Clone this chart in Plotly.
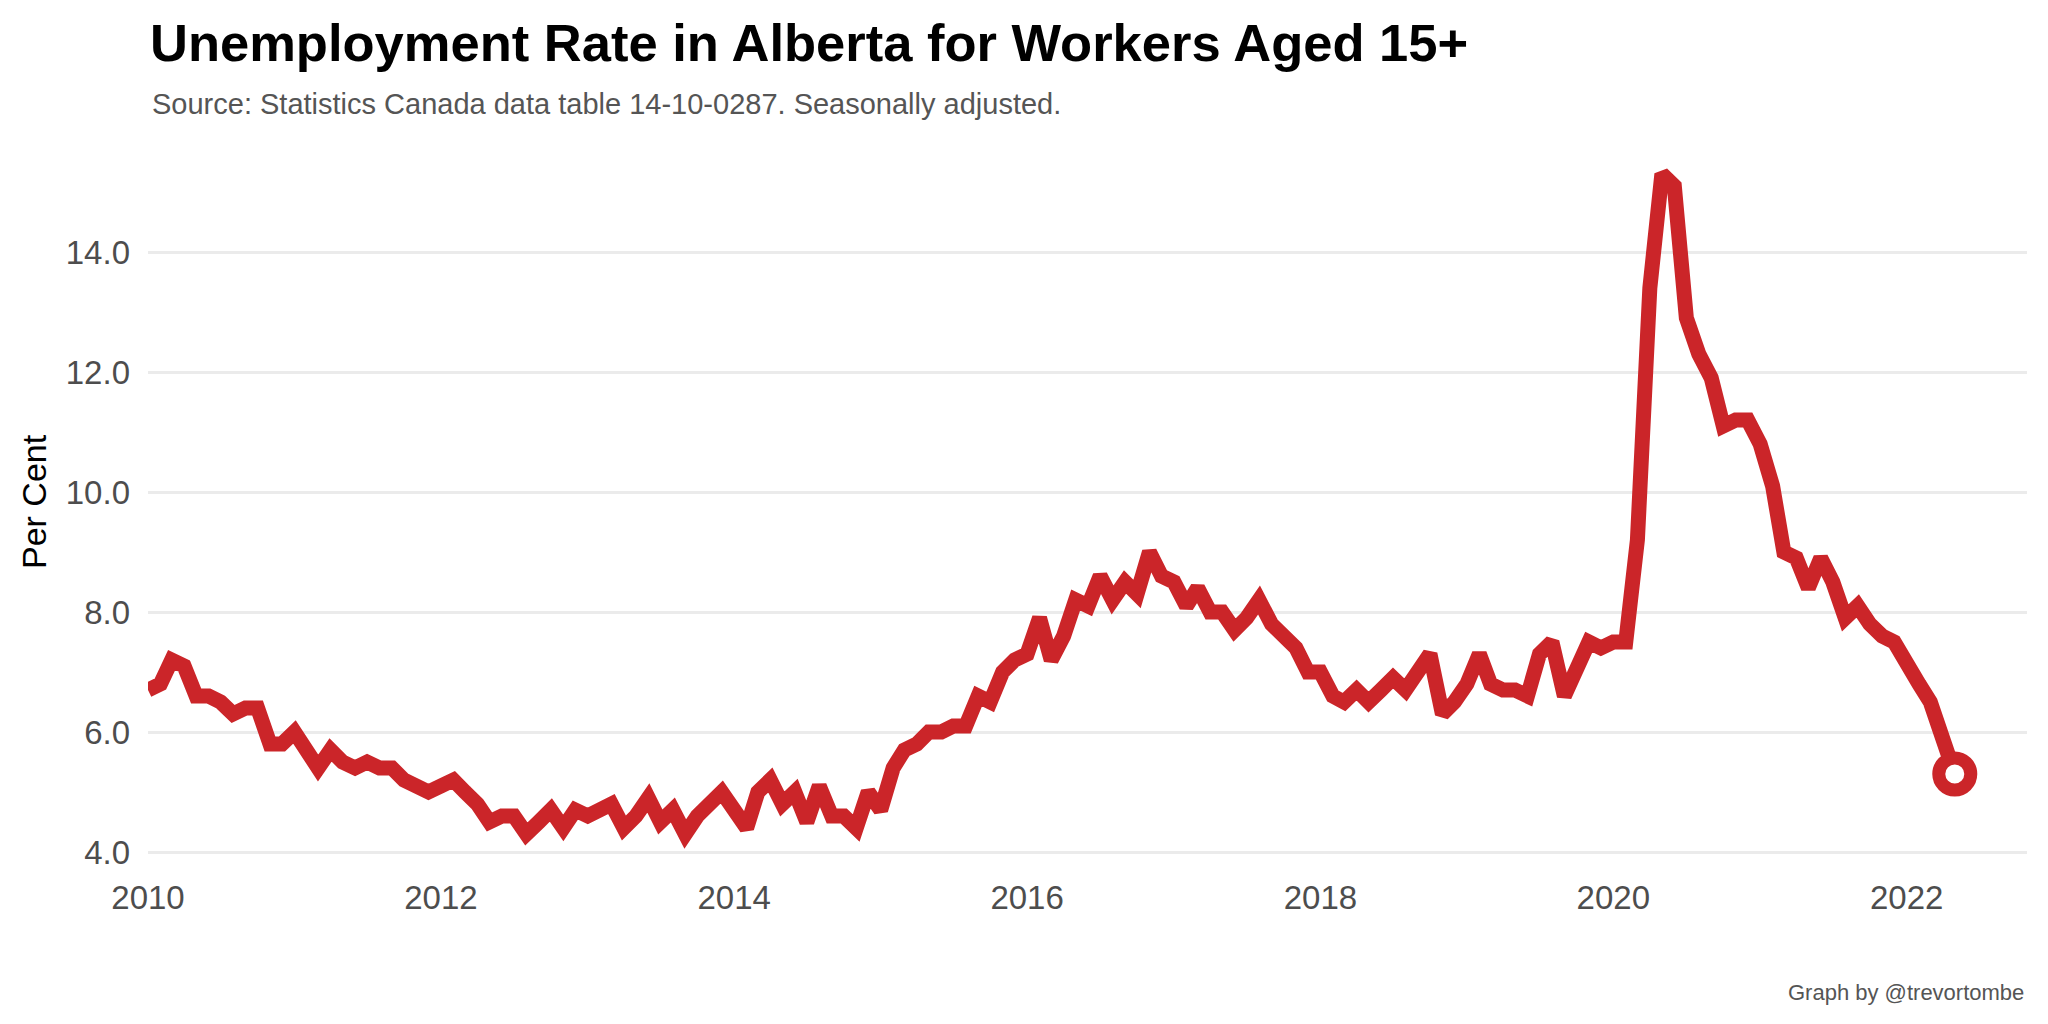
import plotly.graph_objects as go
import pandas as pd

# Monthly unemployment rate, Alberta, 15+ (Jan 2010 - May 2022)
start_month = "2010-01-01"
rate = [
    # 2010
    6.7, 6.8, 7.2, 7.1, 6.6, 6.6, 6.5, 6.3, 6.4, 6.4, 5.8, 5.8,
    # 2011
    6.0, 5.7, 5.4, 5.7, 5.5, 5.4, 5.5, 5.4, 5.4, 5.2, 5.1, 5.0,
    # 2012
    5.1, 5.2, 5.0, 4.8, 4.5, 4.6, 4.6, 4.3, 4.5, 4.7, 4.4, 4.7,
    # 2013
    4.6, 4.7, 4.8, 4.4, 4.6, 4.9, 4.5, 4.7, 4.3, 4.6, 4.8, 5.0,
    # 2014
    4.7, 4.4, 5.0, 5.2, 4.8, 5.0, 4.5, 5.1, 4.6, 4.6, 4.4, 5.0,
    # 2015
    4.7, 5.4, 5.7, 5.8, 6.0, 6.0, 6.1, 6.1, 6.6, 6.5, 7.0, 7.2,
    # 2016
    7.3, 7.9, 7.2, 7.6, 8.2, 8.1, 8.6, 8.2, 8.5, 8.3, 9.0, 8.6,
    # 2017
    8.5, 8.1, 8.4, 8.0, 8.0, 7.7, 7.9, 8.2, 7.8, 7.6, 7.4, 7.0,
    # 2018
    7.0, 6.6, 6.5, 6.7, 6.5, 6.7, 6.9, 6.7, 7.0, 7.3, 6.3, 6.5,
    # 2019
    6.8, 7.3, 6.8, 6.7, 6.7, 6.6, 7.3, 7.5, 6.6, 7.0, 7.5, 7.4,
    # 2020
    7.5, 7.5, 9.2, 13.4, 15.3, 15.1, 12.9, 12.3, 11.9, 11.1, 11.2, 11.2,
    # 2021
    10.8, 10.1, 9.0, 8.9, 8.4, 8.9, 8.5, 7.9, 8.1, 7.8, 7.6, 7.5,
    # 2022
    7.2, 6.8, 6.5, 5.9, 5.3,
]
dates = pd.date_range(start_month, periods=len(rate), freq="MS")

x_tick_vals = ["2010-01-01", "2012-01-01", "2014-01-01", "2016-01-01",
               "2018-01-01", "2020-01-01", "2022-01-01"]
x_tick_text = ["2010", "2012", "2014", "2016", "2018", "2020", "2022"]
y_tick_vals = [4, 6, 8, 10, 12, 14]
y_tick_text = ["4.0", "6.0", "8.0", "10.0", "12.0", "14.0"]

title_text = "Unemployment Rate in Alberta for Workers Aged 15+"
subtitle_text = "Source: Statistics Canada data table 14-10-0287. Seasonally adjusted."
caption_text = "Graph by @trevortombe"
y_title = "Per Cent"

RED = "#CB2529"
FONT = "Liberation Sans"

# page offset of the figure inside the HTML body (default body margin)
OFF = 8
L, T, PH = 148 - OFF, 147 - OFF, 720   # panel left, top, height (figure px)
PB = T + PH                             # panel bottom

fig = go.Figure()
fig.add_trace(go.Scatter(
    x=dates, y=rate, mode="lines",
    line=dict(color=RED, width=15),
    showlegend=False, hoverinfo="x+y",
))
fig.add_trace(go.Scatter(
    x=[dates[-1]], y=[rate[-1]], mode="markers",
    marker=dict(size=32, color="white", line=dict(color=RED, width=13)),
    showlegend=False, cliponaxis=False,
))

fig.update_layout(
    width=2048, height=1024,
    margin=dict(l=L, r=2048 - (2027 - OFF), t=T, b=1024 - PB),
    paper_bgcolor="white", plot_bgcolor="white",
    font=dict(family=FONT, color="#4D4D4D"),
    title=dict(
        text="<b>" + title_text + "</b>",
        xref="container", yref="container",
        x=(150 - OFF) / 2048, xanchor="left",
        y=1 - (43 - OFF) / 1024, yanchor="middle",
        font=dict(family=FONT, size=52.5, color="black"),
    ),
    xaxis=dict(
        type="date",
        range=["2010-01-01", "2022-10-28"],
        tickvals=x_tick_vals, ticktext=x_tick_text,
        showgrid=False, zeroline=False, showline=False,
        ticks="", ticklabelstandoff=8,
        tickfont=dict(size=33, color="#4D4D4D"),
    ),
    yaxis=dict(
        range=[3.75, 15.75],
        tickvals=y_tick_vals, ticktext=y_tick_text,
        showgrid=True, gridcolor="#EBEBEB", gridwidth=3,
        zeroline=False, showline=False,
        ticks="", ticklabelstandoff=17,
        tickfont=dict(size=33, color="#4D4D4D"),
    ),
    annotations=[
        dict(text=subtitle_text, xref="paper", yref="paper",
             x=0, xshift=2, y=(PB - (104 - OFF)) / PH, xanchor="left", yanchor="middle",
             showarrow=False, font=dict(family=FONT, size=29, color="#555555")),
        dict(text=caption_text, xref="paper", yref="paper",
             x=1, xshift=-1, y=(PB - (992 - OFF)) / PH, xanchor="right", yanchor="middle",
             showarrow=False, font=dict(family=FONT, size=22, color="#555555")),
        dict(text=y_title, xref="paper", yref="paper",
             x=0, xshift=(34 - OFF) - L, y=(PB - (502 - OFF)) / PH, textangle=-90,
             xanchor="center", yanchor="middle",
             showarrow=False, font=dict(family=FONT, size=34, color="black")),
    ],
)

fig.write_html("out.html")
